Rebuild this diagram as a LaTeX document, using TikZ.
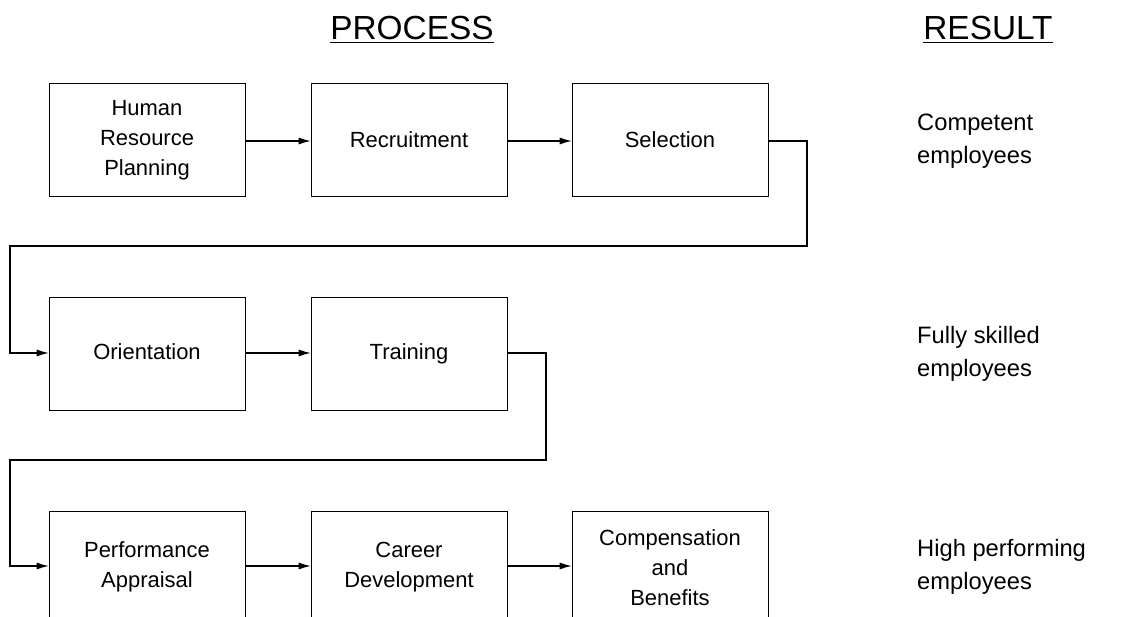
\documentclass[tikz,border=0pt]{standalone}
\usepackage{fontspec}
\setmainfont{Liberation Sans}
\usetikzlibrary{arrows.meta}
\begin{document}
\begin{tikzpicture}[x=0.02cm,y=-0.02cm,
  box/.style={draw,line width=0.8pt,minimum width=3.92cm,minimum height=2.26cm,anchor=north west,inner sep=0pt},
  txt/.style={align=center,font=\fontsize{12.5}{17}\selectfont,inner sep=0pt},
  res/.style={anchor=west,align=left,font=\fontsize{13.5}{18.5}\selectfont},
  ttl/.style={font=\fontsize{19}{22}\selectfont},
  conn/.style={line width=0.8pt,-{Latex[length=7pt,width=4pt]}}]
\useasboundingbox (0,0) rectangle (1134,617);
\clip (0,0) rectangle (1134,617);
\node[ttl] (tp) at (412,30) {\underline{PROCESS}};
\node[ttl] (tr) at (988,30) {\underline{RESULT}};
\node[box] (hrp) at (49,83) {};
\node[box] (rec) at (311,83) {};
\node[box] (sel) at (572,83) {};
\node[box] (ori) at (49,297) {};
\node[box] (tra) at (311,297) {};
\node[box,minimum height=2.4cm] (pa) at (49,511) {};
\node[box,minimum height=2.4cm] (cd) at (311,511) {};
\node[box,minimum height=2.4cm] (cb) at (572,511) {};
\node[txt] (t1) at (147,140) {Human\\Resource\\Planning};
\node[txt] (t2) at (409,142) {\strut Recruitment};
\node[txt] (t3) at (670,142) {\strut Selection};
\node[txt] (t4) at (147,354) {\strut Orientation};
\node[txt] (t5) at (409,354) {\strut Training};
\node[txt] (t6) at (147,567) {Performance\\Appraisal};
\node[txt] (t7) at (409,567) {Career\\Development};
\node[txt] (t8) at (670,568) {Compensation\\and\\Benefits};
\node[res] (r1) at (911,141) {Competent\\employees};
\node[res] (r2) at (911,354) {Fully skilled\\employees};
\node[res] (r3) at (911,567) {High performing\\employees};
\draw[conn] (hrp.east|-0,141) -- (rec.west|-0,141);
\draw[conn] (rec.east|-0,141) -- (sel.west|-0,141);
\draw[conn] (ori.east|-0,353) -- (tra.west|-0,353);
\draw[conn] (pa.east|-0,566) -- (cd.west|-0,566);
\draw[conn] (cd.east|-0,566) -- (cb.west|-0,566);
\draw[conn] (sel.east|-0,141) -- (807,141) -- (807,246) -- (10,246) -- (10,353) -- (ori.west|-0,353);
\draw[conn] (tra.east|-0,353) -- (546,353) -- (546,460) -- (10,460) -- (10,566) -- (pa.west|-0,566);
\end{tikzpicture}
\end{document}
